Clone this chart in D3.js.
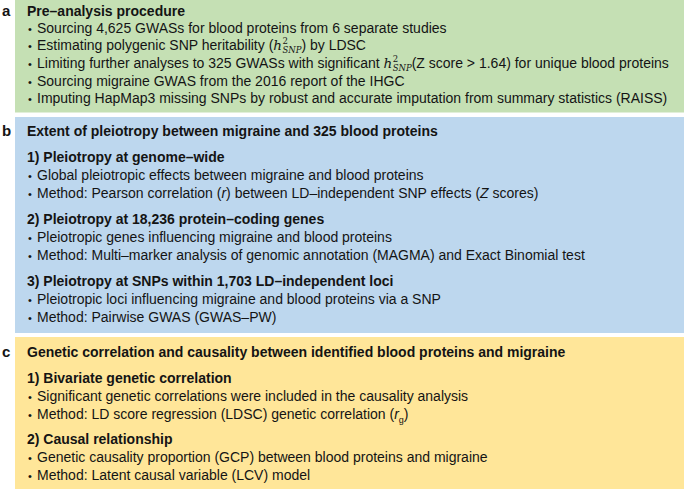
<!DOCTYPE html>
<html><head><meta charset="utf-8">
<script src="https://cdn.jsdelivr.net/npm/d3@7"></script>
<style>
html,body{margin:0;padding:0;background:#fff;}
svg{display:block;}
</style></head>
<body>
<svg id="c" width="685" height="489"></svg>
<script>
// ---- content ----
const panelLabels = ["a", "b", "c"];
const panelColors = ["#c5e0b4", "#bdd7ee", "#ffe699"];
const panelTitles = [
  "Pre\u2013analysis procedure",
  "Extent of pleiotropy between migraine and 325 blood proteins",
  "Genetic correlation and causality between identified blood proteins and migraine"
];
const panelABullets = [
  "Sourcing 4,625 GWASs for blood proteins from 6 separate studies",
  "Estimating polygenic SNP heritability ({h2snp}) by LDSC",
  "Limiting further analyses to 325 GWASs with significant {h2snp}(Z score > 1.64) for unique blood proteins",
  "Sourcing migraine GWAS from the 2016 report of the IHGC",
  "Imputing HapMap3 missing SNPs by robust and accurate imputation from summary statistics (RAISS)"
];
const panelBSubheads = [
  "1) Pleiotropy at genome\u2013wide",
  "2) Pleiotropy at 18,236 protein\u2013coding genes",
  "3) Pleiotropy at SNPs within 1,703 LD\u2013independent loci"
];
const panelBBullets = [
  ["Global pleiotropic effects between migraine and blood proteins",
   "Method: Pearson correlation (*r*) between LD\u2013independent SNP effects (*Z* scores)"],
  ["Pleiotropic genes influencing migraine and blood proteins",
   "Method: Multi\u2013marker analysis of genomic annotation (MAGMA) and Exact Binomial test"],
  ["Pleiotropic loci influencing migraine and blood proteins via a SNP",
   "Method: Pairwise GWAS (GWAS\u2013PW)"]
];
const panelCSubheads = [
  "1) Bivariate genetic correlation",
  "2) Causal relationship"
];
const panelCBullets = [
  ["Significant genetic correlations were included in the causality analysis",
   "Method: LD score regression (LDSC) genetic correlation ({rg})"],
  ["Genetic causality proportion (GCP) between blood proteins and migraine",
   "Method: Latent causal variable (LCV) model"]
];

// ---- layout ----
const boxX0 = 15, boxX1 = 684;
const boxes = [
  {y0: 0, y1: 112.5},
  {y0: 117, y1: 333},
  {y0: 337, y1: 489}
];
const textX = 27, bulletX = 28, bulletTextX = 37;
const FS = 14;
const FONT = '"Liberation Sans",Arial,Helvetica,sans-serif';
const MATH = '"DejaVu Serif","Liberation Serif",serif';
const ink = "#141414";

const svg = d3.select("#c");

boxes.forEach((b, i) => {
  svg.append("rect").attr("x", boxX0).attr("y", b.y0)
    .attr("width", boxX1 - boxX0).attr("height", b.y1 - b.y0)
    .attr("fill", panelColors[i]);
});

function addText(x, y, str, bold) {
  const t = svg.append("text")
    .attr("x", x).attr("y", y)
    .attr("font-family", FONT).attr("font-size", FS)
    .attr("font-weight", bold ? "bold" : "normal")
    .attr("fill", ink);
  const parts = str.split(/(\{h2snp\}|\{rg\}|\*[^*]+\*)/).filter(s => s.length);
  let pendingDy = 0;
  const plain = (sel) => { if (pendingDy) { sel.attr("dy", pendingDy); pendingDy = 0; } return sel; };
  parts.forEach(p => {
    if (p === "{h2snp}") {
      plain(t.append("tspan")).attr("font-family", MATH)
        .attr("font-style", "italic").attr("font-size", 13.5).text("h");
      t.append("tspan").attr("font-family", MATH)
        .attr("font-size", 8.5).attr("dx", 0.5).attr("dy", -6).text("2");
      t.append("tspan").attr("font-family", MATH).attr("font-style", "italic")
        .attr("font-size", 8.5).attr("dx", -5.5).attr("dy", 9).text("SNP");
      pendingDy = -3;
    } else if (p === "{rg}") {
      plain(t.append("tspan")).attr("font-style", "italic").text("r");
      t.append("tspan").attr("font-size", 9).attr("dy", 4).text("g");
      pendingDy = -4;
    } else if (p[0] === "*") {
      plain(t.append("tspan")).attr("font-style", "italic").text(p.slice(1, -1));
    } else {
      plain(t.append("tspan")).text(p);
    }
  });
  return t;
}
function addBullet(y, str) {
  svg.append("text").attr("x", bulletX).attr("y", y)
    .attr("font-family", FONT).attr("font-size", 11).attr("fill", ink).text("\u2022");
  addText(bulletTextX, y, str, false);
}

// panel labels
const labelY = [15.5, 136, 356.5];
panelLabels.forEach((l, i) => {
  svg.append("text").attr("x", 2).attr("y", labelY[i])
    .attr("font-family", FONT).attr("font-size", 15).attr("font-weight", "bold")
    .attr("fill", ink).text(l);
});

// panel a
addText(textX, 15.5, panelTitles[0], true);
const aStep = 17.7;
panelABullets.forEach((s, i) => addBullet(32.5 + i * aStep, s));

// panel b
addText(textX, 136, panelTitles[1], true);
const lineStep = 18, subStep = 62;
panelBSubheads.forEach((s, k) => {
  const y0 = 162 + k * subStep;
  addText(textX, y0, s, true);
  panelBBullets[k].forEach((bs, j) => addBullet(y0 + (j + 1) * lineStep, bs));
});

// panel c
addText(textX, 356.5, panelTitles[2], true);
panelCSubheads.forEach((s, k) => {
  const y0 = 382.5 + k * 61.5;
  addText(textX, y0, s, true);
  panelCBullets[k].forEach((bs, j) => addBullet(y0 + (j + 1) * lineStep, bs));
});
</script>
</body></html>
